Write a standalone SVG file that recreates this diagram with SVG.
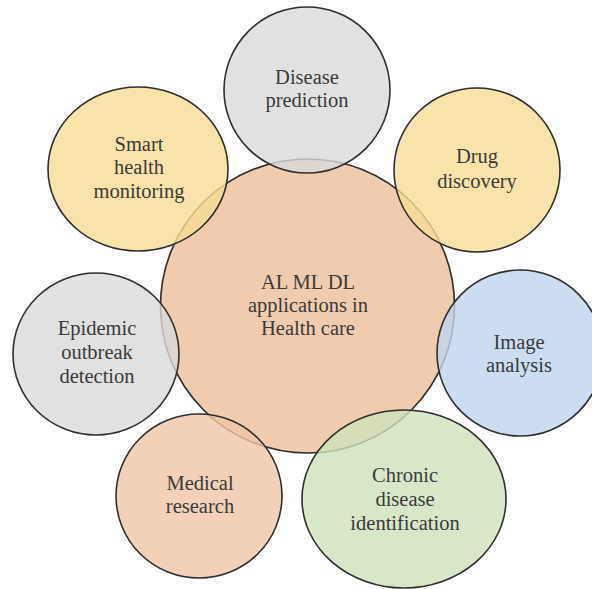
<svg xmlns="http://www.w3.org/2000/svg" width="592" height="589" viewBox="0 0 592 589">
<style>
.n{stroke:#2e2e2e;stroke-width:1.6;fill-opacity:0.8}
.t{font-family:"Liberation Serif",serif;font-size:20.5px;fill:#3a3a3a;text-anchor:middle}
.gray{fill:#dadada}.yel{fill:#f6dc95}.blue{fill:#bfd5ef}.green{fill:#cfe1bc}.peach{fill:#f0c6a6}
</style>
<rect width="592" height="589" fill="#ffffff"/>
<g id="center">
<circle cx="307.5" cy="306" r="147" fill="#f1cbae" stroke="#2e2e2e" stroke-width="1.6"/>
<text class="t" x="308" y="289">AL ML DL</text>
<text class="t" x="308" y="312">applications in</text>
<text class="t" x="308" y="335">Health care</text>
</g>
<g id="disease-prediction">
<circle class="n gray" cx="307" cy="90" r="83"/>
<text class="t" x="307" y="84">Disease</text>
<text class="t" x="307" y="107">prediction</text>
</g>
<g id="drug-discovery">
<ellipse class="n yel" cx="477" cy="170" rx="83" ry="82"/>
<text class="t" x="477" y="163">Drug</text>
<text class="t" x="477" y="188">discovery</text>
</g>
<g id="smart-health">
<ellipse class="n yel" cx="138" cy="169" rx="90" ry="82"/>
<text class="t" x="139" y="151">Smart</text>
<text class="t" x="139" y="174">health</text>
<text class="t" x="139" y="198">monitoring</text>
</g>
<g id="epidemic">
<ellipse class="n gray" cx="96" cy="354" rx="83" ry="81"/>
<text class="t" x="97" y="335">Epidemic</text>
<text class="t" x="97" y="359">outbreak</text>
<text class="t" x="97" y="383">detection</text>
</g>
<g id="image-analysis">
<ellipse class="n blue" cx="520" cy="353" rx="83" ry="83"/>
<text class="t" x="519" y="349">Image</text>
<text class="t" x="519" y="372">analysis</text>
</g>
<g id="medical-research">
<ellipse class="n peach" cx="199" cy="496" rx="83" ry="82"/>
<text class="t" x="200" y="490">Medical</text>
<text class="t" x="200" y="513">research</text>
</g>
<g id="chronic">
<ellipse class="n green" cx="404" cy="499" rx="102" ry="89"/>
<text class="t" x="405" y="482">Chronic</text>
<text class="t" x="405" y="506">disease</text>
<text class="t" x="405" y="530">identification</text>
</g>
<g id="connectors"></g>
</svg>
